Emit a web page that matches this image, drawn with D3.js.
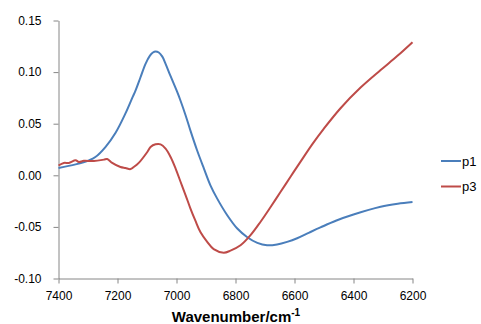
<!DOCTYPE html>
<html><head><meta charset="utf-8">
<script src="https://cdn.jsdelivr.net/npm/d3@7"></script>
<style>body{margin:0;background:#fff}svg{display:block}</style>
</head><body><svg id="c" width="481" height="324"></svg>
<script>
const seriesNames = ["p1", "p3"];
const xTicks = [7400, 7200, 7000, 6800, 6600, 6400, 6200];
const yTicks = [-0.10, -0.05, 0.00, 0.05, 0.10, 0.15];

const wnP1 = [7400, 7342, 7297, 7275, 7241, 7207, 7173, 7150, 7139, 7122, 7105, 7090, 7080, 7071, 7060, 7048, 7037, 7020, 6998, 6986, 6969, 6953, 6930, 6907, 6885, 6862, 6828, 6794, 6760, 6726, 6693, 6659, 6625, 6591, 6550, 6512, 6460, 6400, 6308, 6250, 6200];
const p1 = [0.0071, 0.0106, 0.0145, 0.0177, 0.0274, 0.041, 0.060, 0.075, 0.082, 0.095, 0.108, 0.116, 0.119, 0.120, 0.119, 0.115, 0.108, 0.096, 0.081, 0.072, 0.058, 0.0435, 0.024, 0.0065, -0.0097, -0.0226, -0.0387, -0.0516, -0.060, -0.0655, -0.0678, -0.067, -0.0645, -0.061, -0.0555, -0.0505, -0.044, -0.038, -0.0305, -0.0275, -0.0258];

const wnP3 = [7400, 7382, 7365, 7342, 7331, 7314, 7280, 7246, 7235, 7218, 7190, 7173, 7156, 7145, 7128, 7099, 7088, 7071, 7054, 7037, 7020, 7003, 6986, 6969, 6953, 6936, 6919, 6896, 6874, 6840, 6817, 6783, 6749, 6715, 6681, 6647, 6614, 6580, 6540, 6501, 6444, 6376, 6308, 6252, 6200];
const p3 = [0.0095, 0.012, 0.012, 0.0145, 0.013, 0.014, 0.0138, 0.0152, 0.0158, 0.012, 0.008, 0.007, 0.006, 0.008, 0.012, 0.0226, 0.0274, 0.030, 0.030, 0.0258, 0.0177, 0.0065, -0.0065, -0.0194, -0.032, -0.044, -0.055, -0.0645, -0.0716, -0.075, -0.073, -0.0678, -0.058, -0.045, -0.0307, -0.016, -0.0016, 0.013, 0.030, 0.045, 0.065, 0.085, 0.102, 0.1155, 0.129];

const colors = ["#4a7ebb", "#be4b48"];

const svg = d3.select("#c");
const x = d3.scaleLinear().domain([7400, 6200]).range([58.5, 412.5]);
const y = d3.scaleLinear().domain([-0.10, 0.15]).range([278.5, 20.5]);
const axisColor = "#868686";
const font = "'Liberation Sans', Arial, sans-serif";

const gx = svg.append("g").attr("transform", "translate(0,278.5)")
  .call(d3.axisBottom(x).tickValues(xTicks).tickSize(5).tickSizeOuter(0).tickPadding(8).tickFormat(d => String(d)));
const gy = svg.append("g").attr("transform", "translate(58.5,0)")
  .call(d3.axisLeft(y).tickValues(yTicks).tickSize(5).tickSizeOuter(0).tickPadding(12).tickFormat(d => d.toFixed(2)));
[gx, gy].forEach(g => {
  g.select(".domain").attr("stroke", axisColor);
  g.selectAll(".tick line").attr("stroke", axisColor);
  g.selectAll(".tick text").attr("fill", "#000").style("font-family", font).style("font-size", "12px");
});

const line = d3.line().x(d => x(d[0])).y(d => y(d[1])).curve(d3.curveCatmullRom.alpha(0.5));
const data = [d3.zip(wnP1, p1), d3.zip(wnP3, p3)];
data.forEach((d, i) => {
  svg.append("path").datum(d).attr("d", line).attr("fill", "none")
    .attr("stroke", colors[i]).attr("stroke-width", 2).attr("stroke-linejoin", "round");
});

// legend
const leg = svg.append("g");
seriesNames.forEach((n, i) => {
  const yy = 161 + i * 25.5;
  leg.append("line").attr("x1", 441).attr("x2", 461).attr("y1", yy).attr("y2", yy)
    .attr("stroke", colors[i]).attr("stroke-width", 2);
  leg.append("text").attr("x", 462).attr("y", yy).attr("dy", "0.35em").text(n)
    .style("font-family", font).style("font-size", "13px").attr("fill", "#000");
});

// x title
const t = svg.append("text").attr("x", 236).attr("y", 322).attr("text-anchor", "middle")
  .style("font-family", font).style("font-size", "15px").style("font-weight", "bold").attr("fill", "#000");
t.append("tspan").text("Wavenumber/cm");
t.append("tspan").attr("dy", "-6").style("font-size", "10px").text("-1");
</script>
</body></html>
